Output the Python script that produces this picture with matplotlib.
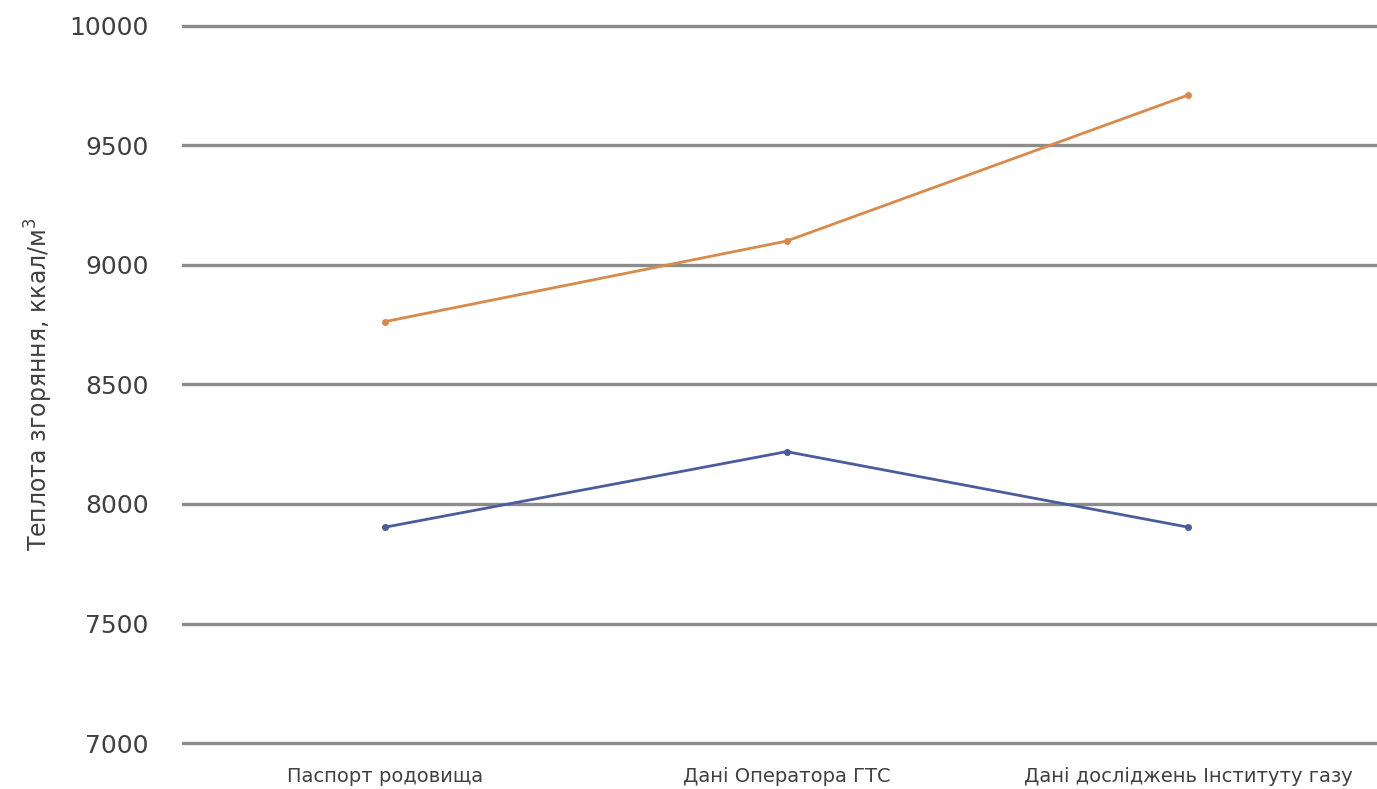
import numpy as np
import matplotlib.pyplot as plt

# --- дані ---
categories = ["Паспорт родовища", "Дані Оператора ГТС", "Дані досліджень Інституту газу"]
heat_orange = [8763, 9100, 9711]
heat_blue = [7903, 8219, 7903]
y_ticks = [7000, 7500, 8000, 8500, 9000, 9500, 10000]

plt.rcParams['font.family'] = ['DejaVu Sans']

fig = plt.figure(figsize=(13.77, 7.89), dpi=100)
ax = fig.add_axes([0.132, 0.0522, 0.868, 0.921])

x = np.arange(len(categories))
ax.plot(x, heat_orange, color='#d8894c', linewidth=2.0, marker='o', markersize=4, zorder=3)
ax.plot(x, heat_blue, color='#4a5c9c', linewidth=2.0, marker='o', markersize=4, zorder=3)

ax.set_ylim(6980, 10020)
ax.set_xlim(-0.506, 2.47)
ax.set_yticks(y_ticks)
ax.set_yticklabels([str(v) for v in y_ticks], fontsize=18, color='#404040')
ax.set_xticks(x)
ax.set_xticklabels(categories, fontsize=14, color='#404040')
ax.tick_params(axis='both', length=0)
ax.tick_params(axis='y', pad=24)
ax.tick_params(axis='x', pad=14)

ax.grid(axis='y', color='#8c8c8c', linewidth=2.4)
ax.set_axisbelow(True)
for s in ax.spines.values():
    s.set_visible(False)

ax.set_ylabel("Теплота згоряння, ккал/м$^3$", fontsize=17, color='#404040', labelpad=10)

fig.savefig('out.png', dpi=100, facecolor='white')
